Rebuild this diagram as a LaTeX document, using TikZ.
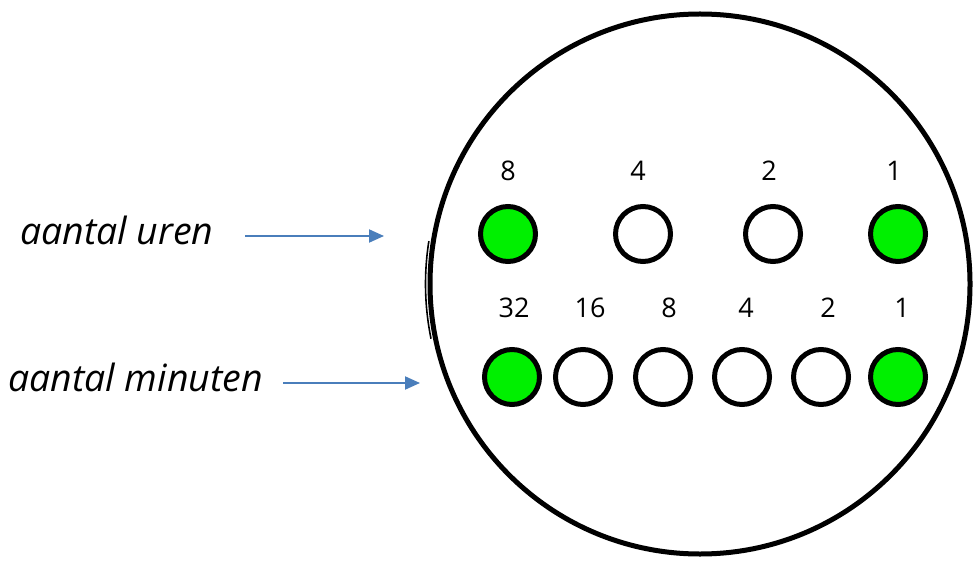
\documentclass[tikz,border=0pt]{standalone}
\usepackage{fontspec}
\setmainfont{Open Sans}
\usetikzlibrary{arrows.meta}
\definecolor{ledgreen}{RGB}{0,240,0}
\definecolor{arrowblue}{RGB}{74,126,187}
\tikzset{
  led/.style={circle, draw=black, line width=5pt, minimum size=55pt, inner sep=0pt},
  ledon/.style={led, fill=ledgreen},
  ledoff/.style={led, fill=white},
  digit/.style={font=\fontsize{27}{32}\selectfont, inner sep=0pt, anchor=base},
  sidelabel/.style={font=\fontsize{37.5}{44}\selectfont\itshape, inner sep=0pt, anchor=base west},
  pointer/.style={draw=arrowblue, line width=2pt, -{Triangle[length=15pt,width=13pt]}}
}
\begin{document}
\begin{tikzpicture}[x=1pt,y=1pt]
\useasboundingbox (0,0) rectangle (973,-561);
% big dial
\node[circle, draw=black, line width=5pt, minimum size=540pt, inner sep=0pt] (dial) at (700,-284) {};
\draw[line width=1.6pt] (dial.center) ++(171:274.5) arc[start angle=171, end angle=191.5, radius=274.5];
% hours row
\node[ledon]  (h8) at (508,-234) {};
\node[ledoff] (h4) at (643,-234) {};
\node[ledoff] (h2) at (773,-234) {};
\node[ledon]  (h1) at (898,-234) {};
\node[digit] (lh8) at (508,-181) {8};
\node[digit] (lh4) at (638,-181) {4};
\node[digit] (lh2) at (769,-181) {2};
\node[digit] (lh1) at (894,-181) {1};
% minutes row
\node[ledon]  (m32) at (512,-377) {};
\node[ledoff] (m16) at (583,-377) {};
\node[ledoff] (m8)  at (663,-377) {};
\node[ledoff] (m4)  at (742,-377) {};
\node[ledoff] (m2)  at (821,-377) {};
\node[ledon]  (m1)  at (898,-377) {};
\node[digit] (lm32) at (514,-317) {32};
\node[digit] (lm16) at (590,-317) {16};
\node[digit] (lm8)  at (669,-317) {8};
\node[digit] (lm4)  at (746,-317) {4};
\node[digit] (lm2)  at (828,-317) {2};
\node[digit] (lm1)  at (902,-317) {1};
% side labels
\node[sidelabel] (uren) at (20,-244) {aantal uren};
\node[sidelabel] (minuten) at (8,-391) {aantal minuten};
\coordinate (ua) at (245,-236);
\coordinate (ub) at (384,-236);
\coordinate (ma) at (283,-383);
\coordinate (mb) at (420,-383);
\draw[pointer] (ua) -- (ub);
\draw[pointer] (ma) -- (mb);
\end{tikzpicture}
\end{document}
